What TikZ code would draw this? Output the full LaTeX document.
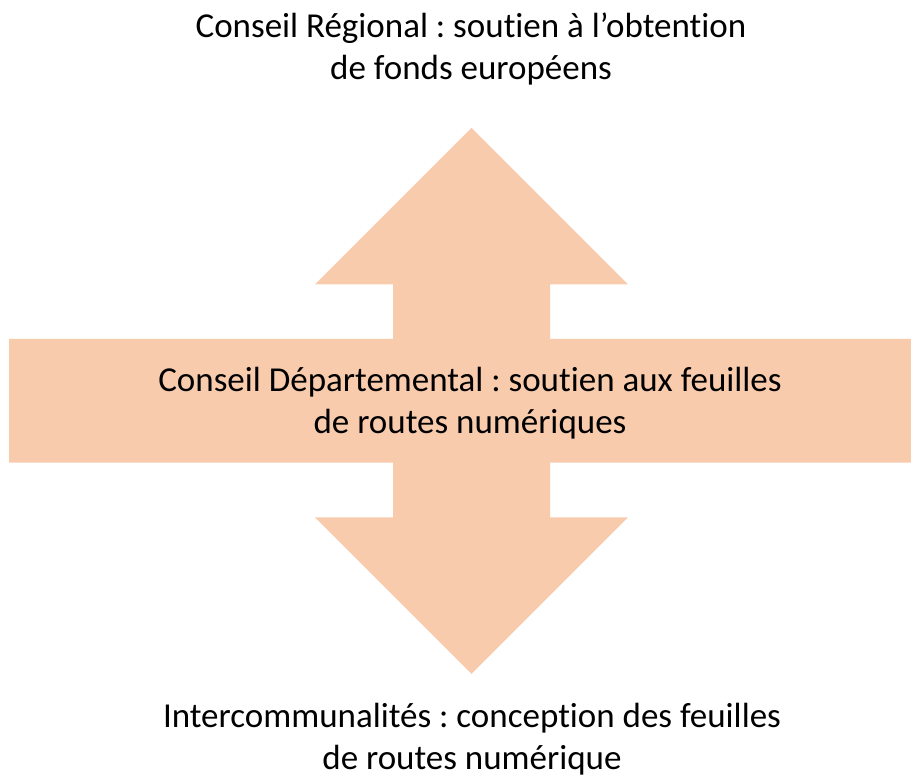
\documentclass[tikz,border=0pt]{standalone}
\usepackage{fontspec}
\setmainfont{Carlito}[Ligatures={NoCommon}]
\definecolor{peach}{HTML}{F8CBAD}
\begin{document}
\frenchspacing
\begin{tikzpicture}[x=1pt,y=1pt,
  lbl/.style={align=center,anchor=base,inner sep=0pt,font=\fontsize{35}{42}\selectfont\frenchspacing,text=black}]
\useasboundingbox (0,0) rectangle (911,778);
% shape (image coordinates: y_tikz = 778 - y_img)
\fill[peach] (471.5,778-128) -- (628,778-284.3) -- (550,778-284.3) -- (550,778-339)
  -- (911,778-339) -- (911,778-462.7) -- (550,778-462.7) -- (550,778-517.3)
  -- (628,778-517.3) -- (471.5,778-674) -- (315,778-517.3) -- (393,778-517.3)
  -- (393,778-462.7) -- (9,778-462.7) -- (9,778-339) -- (393,778-339)
  -- (393,778-284.3) -- (315,778-284.3) -- cycle;
\node[lbl] (top) at (471,778-79.5) {Conseil Régional : soutien à l’obtention\\de fonds européens};
\node[lbl] (mid) at (470,778-433.5) {Conseil Départemental : soutien aux feuilles\\de routes numériques};
\node[lbl] (bot) at (472,778-769.5) {Intercommunalités : conception des feuilles\\de routes numérique};
\end{tikzpicture}
\end{document}
